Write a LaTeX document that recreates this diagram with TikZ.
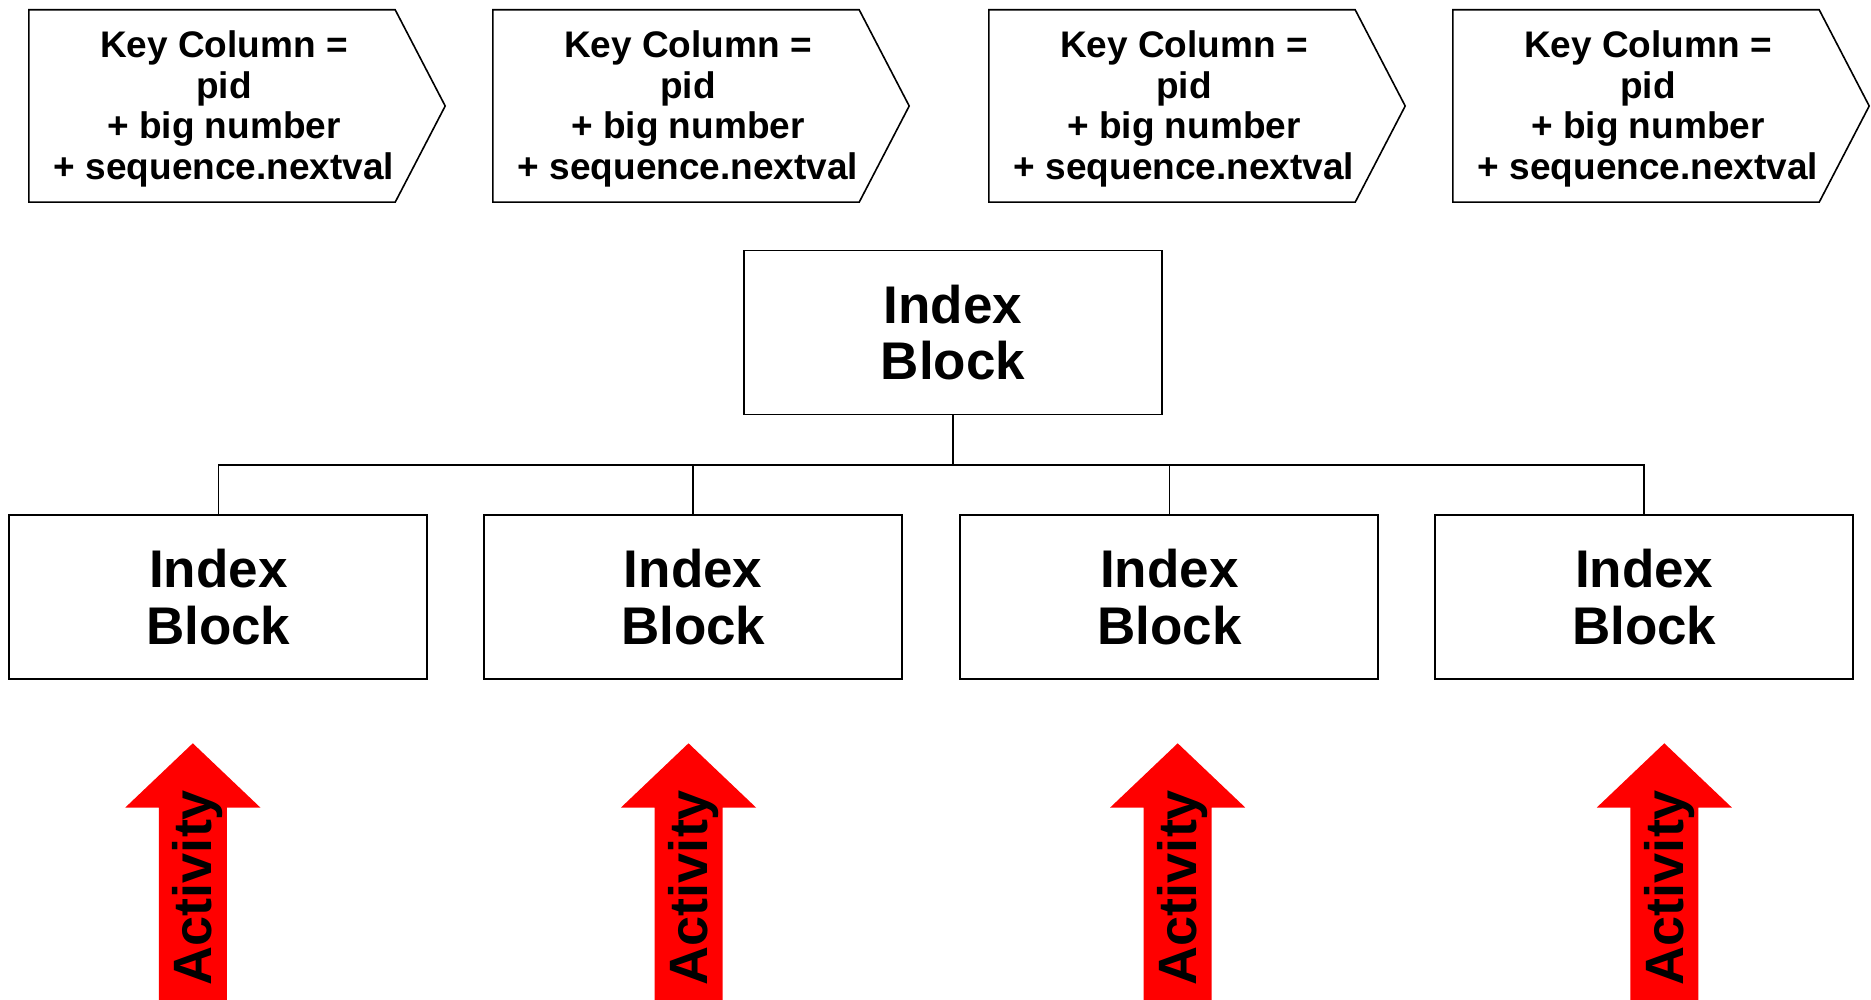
\documentclass[tikz,border=0pt]{standalone}
\usepackage{fontspec}
\setmainfont{Liberation Sans}
\begin{document}
\begin{tikzpicture}[x=1pt,y=1pt,
  keyshape/.style={draw=none,minimum width=366,minimum height=192,inner sep=0},
  keytext/.style={align=center,inner sep=0,font=\bfseries\fontsize{37}{40.6}\selectfont},
  outline/.style={draw=black,line width=1.6,line join=miter},
  block/.style={draw=black,line width=1.8,minimum width=418,minimum height=164,inner sep=0,
    align=center,font=\bfseries\fontsize{53}{56.7}\selectfont},
  conn/.style={draw=black,line width=1.6},
  actarrow/.style={fill=red,draw=none},
  acttext/.style={rotate=90,anchor=base,inner sep=0,font=\bfseries\fontsize{54}{60}\selectfont}]
\useasboundingbox (0,-1000) rectangle (1871,0);

% key-column pentagons
\foreach \n/\lx in {1/29,2/493,3/989,4/1453}{
  \node[keyshape] (k\n) at (\lx+183,-106) {};
  \draw[outline] (k\n.north west) -- (k\n.north east) -- ([xshift=50]k\n.east)
    -- (k\n.south east) -- (k\n.south west) -- cycle;
  \node[keytext] (kt\n) at ([xshift=12,yshift=-3]k\n.center)
    {Key Column =\\pid\\+ big number\\+ sequence.nextval};
}

% index tree
\node[block] (root) at (953,-332.5) {Index\\Block};
\node[block] (b1) at (218.3,-597) {Index\\Block};
\node[block] (b2) at (693.2,-597) {Index\\Block};
\node[block] (b3) at (1169.3,-597) {Index\\Block};
\node[block] (b4) at (1644.2,-597) {Index\\Block};
\coordinate (bus) at (953,-465);
\draw[conn] (root.south) -- (bus);
\foreach \n in {1,2,3,4}{ \draw[conn] (bus) -| (b\n.north); }

% activity arrows
\foreach \n/\cx in {1/192.8,2/688.5,3/1177.7,4/1664.3}{
  \fill[actarrow] (\cx,-743.3) -- (\cx+67.5,-807.5) -- (\cx+34,-807.5) -- (\cx+34,-1001)
    -- (\cx-34,-1001) -- (\cx-34,-807.5) -- (\cx-67.5,-807.5) -- cycle;
  \node[acttext] (a\n) at (\cx+19,-887.5) {Activity};
}
\end{tikzpicture}
\end{document}
